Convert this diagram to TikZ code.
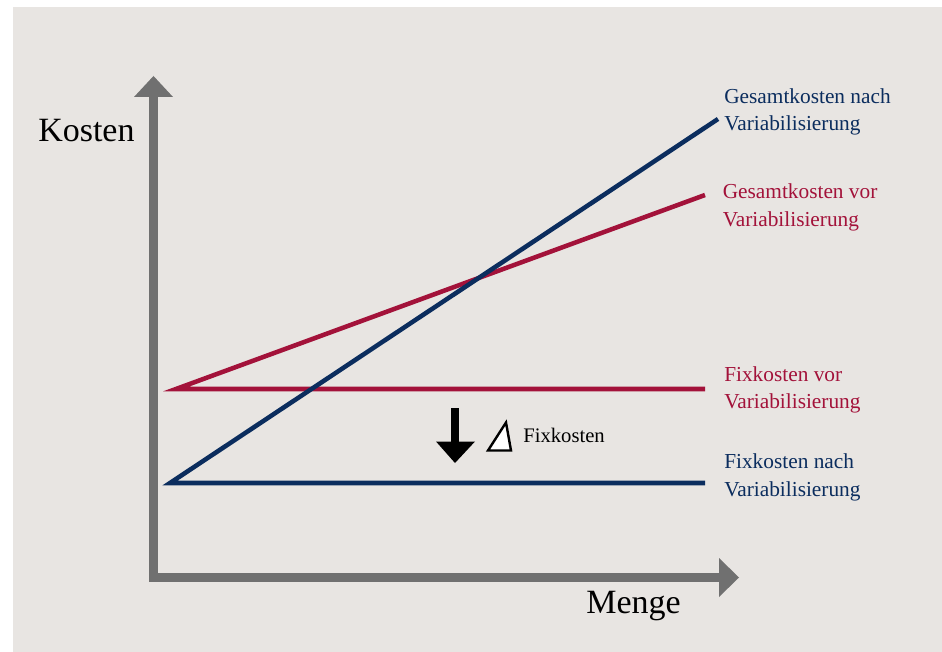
\documentclass[tikz,border=0pt]{standalone}
\usepackage{fontspec}
\setmainfont{Liberation Serif}
\usetikzlibrary{positioning}

\definecolor{navy}{HTML}{0B2D5E}
\definecolor{crimson}{HTML}{A3123A}
\definecolor{axisgray}{HTML}{707070}
\definecolor{paper}{HTML}{E8E5E2}

\begin{document}
\begin{tikzpicture}[x=0.75pt,y=-0.75pt,
    axis/.style={draw=axisgray,line width=6.75pt,line join=miter},
    cost/.style={line width=3.4pt,line join=miter},
    lbl/.style={inner sep=0pt,anchor=west,align=left,font=\fontsize{16}{20.6}\selectfont},
    big/.style={inner sep=0pt,anchor=base west,font=\fontsize{25.5}{30}\selectfont}]
    \useasboundingbox[fill=white] (0,0) rectangle (942,652);
    \fill[paper] (13,7) rectangle (942,652);
    % axes
    \coordinate (top) at (153.5,97);
    \coordinate (o) at (153.5,577.5);
    \coordinate (right) at (719,577.5);
    \draw[axis] (top) -- (o) -- (right);
    \fill[axisgray] (134,97) -- (173,97) -- (153.5,76) -- cycle;
    \fill[axisgray] (719,558) -- (719,597) -- (739,577.5) -- cycle;
    % cost lines
    \coordinate (fixvor) at (176,389);
    \coordinate (fixnach) at (170,483);
    \draw[cost,crimson] (705,195) -- (fixvor) -- (705,389);
    \draw[cost,navy] (718,119) -- (fixnach) -- (705,483);
    % labels
    \node[lbl,text=navy] (gknach) at (724,112) {Gesamtkosten nach\\Variabilisierung};
    \node[lbl,text=crimson] (gkvor) at (722.5,207.5) {Gesamtkosten vor\\Variabilisierung};
    \node[lbl,text=crimson] (fkvor) at (724,390) {Fixkosten vor\\Variabilisierung};
    \node[lbl,text=navy] (fknach) at (724,477.5) {Fixkosten nach\\Variabilisierung};
    \node[big] (kosten) at (38,141.7) {Kosten};
    \node[big] (menge) at (586,613.3) {Menge};
    % delta
    \fill (451,408) rectangle (459,442);
    \fill (436,441.5) -- (475,441.5) -- (455,463) -- cycle;
    \draw[line width=1.8pt,fill=white,line join=miter] (488,450.5) -- (511,450.5) -- (506,422.5) -- cycle;
    \node[inner sep=0pt,anchor=base west,font=\fontsize{15.5}{18}\selectfont] (delta) at (523,442.7) {Fixkosten};
\end{tikzpicture}
\end{document}
